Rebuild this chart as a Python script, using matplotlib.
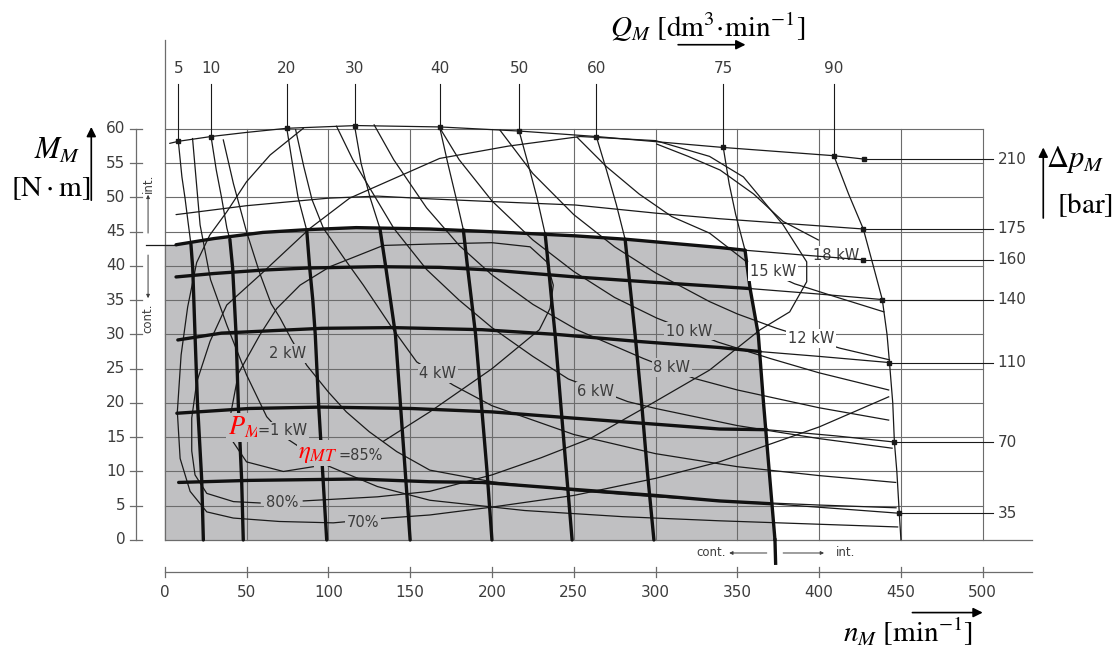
import numpy as np
import matplotlib
matplotlib.use("Agg")
import matplotlib.pyplot as plt

plt.rcParams["mathtext.fontset"] = "stix"
plt.rcParams["font.family"] = ["DejaVu Sans"]

# axes: speed n [min^-1], torque M [N m]
n_ticks = [0, 50, 100, 150, 200, 250, 300, 350, 400, 450, 500]
m_ticks = [0, 5, 10, 15, 20, 25, 30, 35, 40, 45, 50, 55, 60]

# constant pressure drop lines, dp [bar]
dp_labels = ["210", "175", "160", "140", "110", "70", "35"]
dp210_n = [3, 8.3, 28.3, 50, 74.6, 117, 168, 216.6, 263.8, 341.4, 409, 427.5]
dp210_m = [57.9, 58.2, 58.9, 59.5, 60.1, 60.5, 60.3, 59.7, 58.9, 57.3, 56.1, 55.6]
dp175_n = [6.9, 50, 100, 130, 162, 200, 251, 300.7, 339, 380, 427]
dp175_m = [47.5, 48.8, 49.9, 50.2, 49.8, 49.4, 48.9, 47.7, 46.9, 46.2, 45.4]
dp160_n = [6.9, 30, 60, 86.8, 117, 162, 200, 251, 282, 320, 339, 354.7, 390, 427]
dp160_m = [43.1, 44.0, 44.9, 45.3, 45.6, 45.4, 45.0, 44.4, 43.9, 43.1, 42.7, 42.3, 41.6, 40.9]
dp140_n = [6.9, 30, 60, 86.8, 130, 168, 200, 251, 300, 339, 357.8, 400, 438.6]
dp140_m = [38.4, 38.9, 39.4, 39.7, 39.9, 39.8, 39.4, 38.4, 37.6, 37.0, 36.7, 35.9, 35.1]
dp110_n = [8, 34.7, 96, 140, 194, 240, 288.5, 339, 364, 400, 443]
dp110_m = [29.2, 30.2, 30.9, 31.0, 30.7, 30.0, 29.0, 28.1, 27.5, 26.8, 25.9]
dp70_n = [7.4, 52, 95.8, 150, 200, 243.6, 300, 339, 368, 410, 446]
dp70_m = [18.5, 19.2, 19.4, 19.2, 18.7, 17.9, 16.9, 16.2, 16.1, 15.2, 14.3]
dp35_n = [8.5, 52, 117.6, 162, 194, 243.6, 300, 339, 370, 410, 449]
dp35_m = [8.4, 8.7, 8.9, 8.5, 8.4, 7.5, 6.5, 5.7, 5.3, 4.6, 3.9]

# constant flow lines, Q [dm3/min]
q_labels = ["5", "10", "20", "30", "40", "50", "60", "75", "90"]
q5_n = [8.3, 10.5, 12.4, 14.2, 16.0, 17.1, 18.5, 20.0, 22.6, 23.6]
q5_m = [58.2, 53.0, 49.9, 46.5, 43.2, 39.7, 30.0, 20.0, 8.8, 0.0]
q10_n = [28.3, 31.5, 34.8, 38.0, 39.8, 41.5, 43.6, 45.0, 47.0, 48.0]
q10_m = [58.9, 54.0, 49.9, 45.5, 43.9, 39.7, 30.0, 19.5, 8.8, 0.0]
q20_n = [74.6, 78.0, 81.5, 86.8, 88.5, 90.5, 92.0, 94.0, 96.5, 99.0]
q20_m = [60.1, 55.0, 50.0, 45.2, 40.0, 35.0, 30.0, 20.0, 10.0, 0.0]
q30_n = [116.0, 120.0, 125.5, 131.5, 135.0, 138.0, 141.0, 144.0, 147.0, 150.0]
q30_m = [60.5, 55.0, 50.0, 45.5, 40.0, 35.0, 30.0, 20.0, 10.0, 0.0]
q40_n = [168, 173, 178, 182.5, 185, 187.5, 190, 193.5, 197, 200]
q40_m = [60.3, 55, 50, 45.3, 40, 35, 30, 20, 10, 0]
q50_n = [216.6, 222, 227.5, 232.5, 234.5, 236.5, 238.6, 242, 245.5, 249]
q50_m = [59.7, 55, 50, 44.7, 40, 35, 30, 20, 10, 0]
q60_n = [263.8, 270, 276, 281.4, 284, 287.5, 291.5, 295, 299]
q60_m = [58.9, 54, 49, 43.9, 38, 30, 20, 10, 0]
q75_n = [341.4, 345, 349, 354.7, 357.8, 362.8, 366, 369.5, 373]
q75_m = [57.3, 52, 47.5, 42.3, 36.7, 30, 20, 10, 0]
q90_n = [409, 418, 427, 433, 438.6, 441.5, 443, 445, 446, 447.5, 449, 450]
q90_m = [56.1, 50.5, 45.4, 40.1, 35.1, 30, 25.9, 20, 14.3, 10, 3.9, 0]

# constant output power lines [kW]
kw1_n = [17, 21.6, 28, 37.9, 50, 62.3, 74.6, 100, 130, 162, 220, 280, 339, 448]
kw1_m = [58.6, 46, 38, 31.4, 24.1, 18.0, 14.8, 10.8, 7.8, 5.8, 4.3, 3.4, 2.8, 1.9]
kw2_n = [35.8, 42, 50, 58, 65, 70.5, 77.6, 86.8, 100, 111, 125, 141.8, 162, 200, 250, 300, 350, 400, 447]
kw2_m = [58.4, 52, 45, 39, 34.5, 32.4, 29.2, 25.5, 21.6, 18.7, 15.8, 12.9, 10.2, 8.5, 7.2, 6.3, 5.6, 5.1, 4.7]
kw4_n = [80, 85, 90, 97, 110, 121.4, 137.7, 154, 176.4, 200, 250, 300, 350, 400, 446.8]
kw4_m = [59.9, 54.5, 49.7, 45.5, 41.0, 37.2, 31.4, 26.0, 22.6, 19.6, 15.4, 12.6, 10.7, 9.4, 8.4]
kw6_n = [105, 115, 125, 140, 160, 180, 200, 225, 246.7, 283, 300, 350, 400, 444.6]
kw6_m = [60.4, 55.5, 51.5, 45.5, 39.5, 35.0, 31.0, 26.8, 23.5, 20.2, 19.2, 16.7, 14.8, 13.4]
kw8_n = [128, 140, 160, 180, 200, 225, 251.8, 292.5, 323.5, 350, 400, 442.5]
kw8_m = [60.6, 55.5, 48.5, 43.0, 38.7, 34.4, 30.7, 26.5, 23.6, 21.9, 19.3, 17.5]
kw10_n = [168, 180, 200, 225, 250, 275, 300.7, 338, 370, 400, 442.5]
kw10_m = [60.2, 55.5, 49.5, 43.8, 39.2, 35.4, 32.4, 28.9, 26.5, 24.4, 21.9]
kw12_n = [205, 225, 250, 275, 300, 333, 350, 374, 412.7, 443]
kw12_m = [59.8, 53.5, 47.5, 42.8, 39.0, 34.8, 33.0, 30.9, 28.0, 26.3]
kw15_n = [252, 270, 290, 310, 333, 355.7, 385, 410, 439.6]
kw15_m = [58.8, 54.5, 50.5, 47.2, 44.8, 40.6, 37.4, 35.5, 33.3]
kw18_n = [300.7, 320, 339.5, 360, 378, 399.5]
kw18_m = [57.8, 56.0, 54.0, 50.5, 46.5, 43.8]

# overall efficiency contours
eta85_n = [133.6, 162, 200, 229, 235.5, 237.5, 233.5, 223.3, 200, 162, 133.6, 101, 82.7,
           68.5, 58.3, 45, 40, 41, 50, 72.5, 90.8]
eta85_m = [14.4, 18.7, 25.0, 30.7, 33.8, 37.2, 40.6, 42.8, 43.4, 43.2, 43.0, 39.9, 37.2,
           33.8, 30.0, 24.3, 18.0, 14.6, 11.4, 10.0, 10.7]
eta80_n = [58.3, 42, 25.7, 18.5, 16.5, 16.5, 19.6, 27.7, 37.9, 58.3, 88.8, 113, 168, 210, 254,
           300, 333, 353.7, 378, 392.4, 392.4, 382, 364, 333, 292.5, 260, 230, 200, 162, 130, 84.7]
eta80_m = [5.4, 5.6, 6.8, 9.5, 13, 17.8, 23.1, 29.0, 34.3, 38.7, 45.5, 49.9, 55.7, 57.5, 58.9,
           58.3, 56, 53, 46, 40.6, 37.7, 33.3, 30.7, 24.8, 19.2, 14.8, 12.0, 9.5, 7.1, 6.3, 5.7]
eta70_n = [84.7, 64.4, 50, 37.9, 27.5, 19.5, 14, 10, 7.7, 9.4, 15.5, 25.7, 41.9, 70, 103,
           136, 162, 200, 250, 300, 339, 400, 442.5]
eta70_m = [60.1, 56.2, 52.3, 47.9, 44.5, 40.5, 34, 27, 18.7, 11.9, 7.1, 4.1, 3.2, 2.7, 2.5,
           3.2, 3.65, 4.8, 6.5, 9.0, 11.4, 16.5, 20.9]

GRAY = "#c0c0c2"
INK = "#1a1a1a"
GRID = "#6c6c6c"
TXT = "#3c3c3c"

fig = plt.figure(figsize=(11.2, 6.48), dpi=100)
ax = fig.add_axes([0, 0, 1, 1])
ax.set_xlim(-100.7, 583.9)
ax.set_ylim(-15.77, 78.83)
ax.axis("off")


def top_edge(n):
    return np.interp(n, dp160_n, dp160_m)


def right_edge(m):
    return np.interp(m, q75_m[::-1], q75_n[::-1])


def inside(n, m):
    return (m <= top_edge(n) + 0.4) & (n <= right_edge(m) + 1.0)


def draw_split(n, m):
    # thick where the line runs through the continuous-duty (grey) field
    n = np.asarray(n, float)
    m = np.asarray(m, float)
    ins = inside(n, m)
    seg = ins[:-1] & ins[1:]
    start = 0
    for i in range(1, len(seg) + 1):
        if i == len(seg) or seg[i] != seg[start]:
            thick = seg[start]
            ax.plot(n[start:i + 1], m[start:i + 1], color="#111111" if thick else INK,
                    lw=2.4 if thick else 0.9, solid_joinstyle="round",
                    solid_capstyle="round", zorder=3 if thick else 2)
            start = i


# grey continuous area
tn, tm = np.array(dp160_n), np.array(dp160_m)
rn, rm = np.array(q75_n), np.array(q75_m)
s1 = tn <= right_edge(tm) + 1.0
s2 = rm <= top_edge(rn) + 0.4
ax.fill(np.r_[0, 0, tn[s1], rn[s2]], np.r_[0, tm[0], tm[s1], rm[s2]],
        color=GRAY, lw=0, zorder=0)

# grid and frame
for v in n_ticks[1:]:
    ax.plot([v, v], [0, 60], color=GRID, lw=0.8, zorder=1)
for v in m_ticks[1:]:
    ax.plot([0, 500], [v, v], color=GRID, lw=0.8, zorder=1)
ax.plot([0, 0], [0, 73], color=GRID, lw=0.9, zorder=1)
ax.plot([0, 530], [0, 0], color=GRID, lw=0.9, zorder=1)

# rulers
ax.plot([-17.5, -17.5], [0, 60], color=GRID, lw=0.9)
for v in m_ticks:
    ax.plot([-21.2, -13.9], [v, v], color=GRID, lw=0.9)
    ax.text(-24, v, str(v), ha="right", va="center", fontsize=11, color=TXT)
ax.plot([0, 530], [-4.67, -4.67], color=GRID, lw=0.9)
for v in n_ticks:
    ax.plot([v, v], [-3.95, -5.4], color=GRID, lw=0.9)
    ax.text(v, -7.6, str(v), ha="center", va="center", fontsize=11, color=TXT)

# power and efficiency lines
for pn, pm in [(kw1_n, kw1_m), (kw2_n, kw2_m), (kw4_n, kw4_m), (kw6_n, kw6_m),
               (kw8_n, kw8_m), (kw10_n, kw10_m), (kw12_n, kw12_m), (kw15_n, kw15_m),
               (kw18_n, kw18_m), (eta85_n, eta85_m), (eta80_n, eta80_m), (eta70_n, eta70_m)]:
    ax.plot(pn, pm, color=INK, lw=0.9, zorder=2)

# flow lines with top labels
q_curves = [(q5_n, q5_m), (q10_n, q10_m), (q20_n, q20_m), (q30_n, q30_m), (q40_n, q40_m),
            (q50_n, q50_m), (q60_n, q60_m), (q75_n, q75_m), (q90_n, q90_m)]
for lab, (qn, qm) in zip(q_labels, q_curves):
    draw_split(qn, qm)
    ax.plot([qn[0], qn[0]], [qm[0], 66.6], color=INK, lw=0.8, zorder=2)
    ax.plot(qn[0], qm[0], "s", ms=2.6, color=INK, zorder=4)
    ax.text(qn[0], 68.9, lab, ha="center", va="center", fontsize=11, color=TXT)
ax.plot([373, 373.4], [0, -3.4], color="#111111", lw=2.4, zorder=3)

# pressure lines with right labels
dp_curves = [(dp210_n, dp210_m), (dp175_n, dp175_m), (dp160_n, dp160_m), (dp140_n, dp140_m),
             (dp110_n, dp110_m), (dp70_n, dp70_m), (dp35_n, dp35_m)]
for lab, (dn, dm) in zip(dp_labels, dp_curves):
    draw_split(dn, dm)
    ax.plot([dn[-1], 506], [dm[-1], dm[-1]], color=INK, lw=0.8, zorder=2)
    ax.plot(dn[-1], dm[-1], "s", ms=2.6, color=INK, zorder=4)
    ax.text(509, dm[-1], lab, ha="left", va="center", fontsize=11, color=TXT)


def label(x, y, s, bg, z=5):
    ax.text(x, y, s, ha="center", va="center", fontsize=10.5, color=TXT, zorder=z,
            bbox=dict(boxstyle="square,pad=0.12", fc=bg, ec="none"))


label(75, 27.2, "2 kW", GRAY)
label(167, 24.3, "4 kW", GRAY)
label(263.5, 21.7, "6 kW", GRAY)
label(310, 25.2, "8 kW", GRAY)
label(320.5, 30.5, "10 kW", GRAY)
label(395, 29.4, "12 kW", "white")
label(372, 39.2, "15 kW", "white")
label(410.5, 41.6, "18 kW", "white", z=1.5)
label(71.5, 5.4, "80%", GRAY)
label(121, 2.6, "70%", GRAY)

red_box = dict(boxstyle="square,pad=0.05", fc=GRAY, ec="none")
ax.text(38.5, 15.4, r"$P_M$", color="red", fontsize=19, ha="left", va="baseline",
        zorder=6, bbox=red_box)
ax.text(57, 15.3, "=1 kW", color=TXT, fontsize=10.5, ha="left", va="baseline", zorder=6,
        bbox=dict(boxstyle="square,pad=0.1", fc=GRAY, ec="none"))
ax.text(81.5, 12.0, r"$\eta_{MT}$", color="red", fontsize=18, ha="left", va="baseline",
        zorder=6, bbox=red_box)
ax.text(106.5, 11.7, "=85%", color=TXT, fontsize=10.5, ha="left", va="baseline", zorder=6,
        bbox=dict(boxstyle="square,pad=0.1", fc=GRAY, ec="none"))


def arrow(x0, y0, x1, y1, lw=1.2, ms=14, color="black"):
    ax.annotate("", xy=(x1, y1), xytext=(x0, y0),
                arrowprops=dict(arrowstyle="-|>", color=color, lw=lw, mutation_scale=ms,
                                shrinkA=0, shrinkB=0))


# cont. / int. marks
ax.plot([-11.4, 6.9], [43.1, 43.1], color=INK, lw=0.9)
ax.text(-10.2, 52, "int.", rotation=90, ha="center", va="center", fontsize=8.5, color=TXT)
arrow(-10.2, 44.8, -10.2, 50.4, lw=0.7, ms=5, color=TXT)
ax.text(-10.2, 32.4, "cont.", rotation=90, ha="center", va="center", fontsize=8.5, color=TXT)
arrow(-10.2, 41.6, -10.2, 35.3, lw=0.7, ms=5, color=TXT)
ax.text(343, -1.9, "cont.", ha="right", va="center", fontsize=8.5, color=TXT)
arrow(368, -1.9, 345, -1.9, lw=0.7, ms=5, color=TXT)
ax.text(410, -1.9, "int.", ha="left", va="center", fontsize=8.5, color=TXT)
arrow(378, -1.9, 403, -1.9, lw=0.7, ms=5, color=TXT)

# axis titles
ax.text(-65.8, 56.9, r"$M_M$", fontsize=22, ha="center", va="center")
ax.text(-70, 51.4, r"$[\mathrm{N}\cdot\mathrm{m}]$", fontsize=21, ha="center", va="center")
arrow(-44.9, 49.6, -44.9, 60.3)
ax.text(332, 74.9, r"$Q_M\ [\mathrm{dm}^3\!\cdot\!\mathrm{min}^{-1}]$", fontsize=21,
        ha="center", va="center")
arrow(313.8, 72.3, 355, 72.3)
ax.text(556.5, 55.5, r"$\Delta p_M$", fontsize=22, ha="center", va="center")
ax.text(562.6, 48.9, r"$[\mathrm{bar}]$", fontsize=21, ha="center", va="center")
arrow(537, 47, 537, 57.3)
ax.text(454.5, -13.4, r"$n_M\ [\mathrm{min}^{-1}]$", fontsize=21, ha="center", va="center")
arrow(457, -10.6, 500, -10.6)

fig.savefig("out.png", dpi=100, facecolor="white")
